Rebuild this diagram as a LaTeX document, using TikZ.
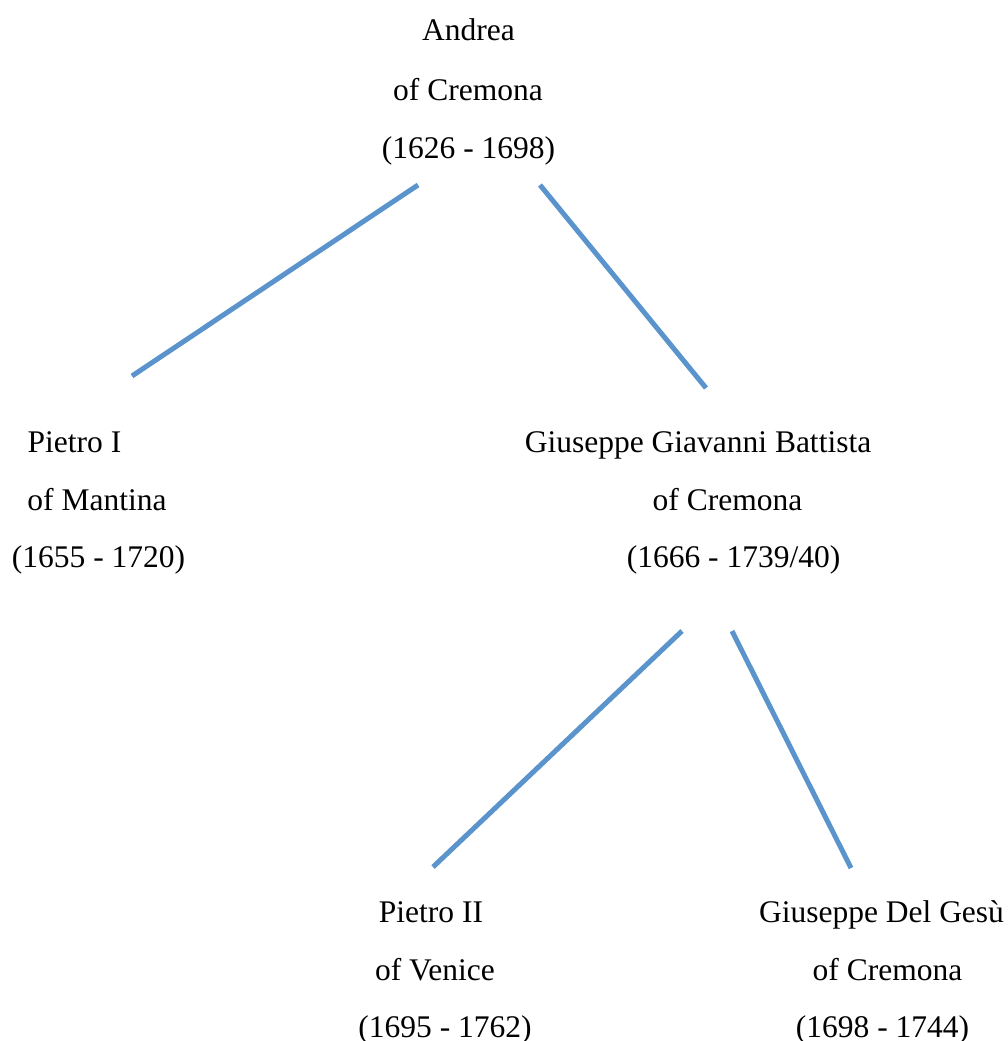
\documentclass[tikz,border=0pt]{standalone}
\usepackage{fontspec}
\setmainfont{Liberation Serif}
\definecolor{linkblue}{RGB}{91,148,204}
\begin{document}
\begin{tikzpicture}[x=1pt,y=-1pt,
  lbl/.style={anchor=base,inner sep=0pt,font=\fontsize{31.5}{38}\selectfont},
  link/.style={draw=linkblue,line width=5pt}]
\useasboundingbox[fill=white] (0,0) rectangle (1008,1041);
% Andrea
\node[lbl] (a1) at (468.5,41) {Andrea};
\node[lbl] (a2) at (468,100) {of Cremona};
\node[lbl] (a3) at (468.5,158) {(1626 - 1698)};
% Pietro I
\node[lbl] (p1) at (74.5,452) {Pietro I};
\node[lbl] (p2) at (97,510) {of Mantina};
\node[lbl] (p3) at (98.5,567) {(1655 - 1720)};
% Giuseppe Giavanni Battista
\node[lbl] (g1) at (698,452) {Giuseppe Giavanni Battista};
\node[lbl] (g2) at (727.5,510) {of Cremona};
\node[lbl] (g3) at (733.5,567) {(1666 - 1739/40)};
% Pietro II
\node[lbl] (q1) at (431,922) {Pietro II};
\node[lbl] (q2) at (435,980) {of Venice};
\node[lbl] (q3) at (445,1037) {(1695 - 1762)};
% Giuseppe Del Gesu
\node[lbl] (d1) at (881.5,922) {Giuseppe Del Gesù};
\node[lbl] (d2) at (887.5,980) {of Cremona};
\node[lbl] (d3) at (882.5,1037) {(1698 - 1744)};
% connector ends
\coordinate (aL) at (418,185);
\coordinate (aR) at (540,185);
\coordinate (pT) at (132,376);
\coordinate (gT) at (706,388);
\coordinate (gL) at (682,631);
\coordinate (gR) at (732,631);
\coordinate (qT) at (433,867);
\coordinate (dT) at (851,868);
\draw[link] (aL) -- (pT);
\draw[link] (aR) -- (gT);
\draw[link] (gL) -- (qT);
\draw[link] (gR) -- (dT);
\end{tikzpicture}
\end{document}
